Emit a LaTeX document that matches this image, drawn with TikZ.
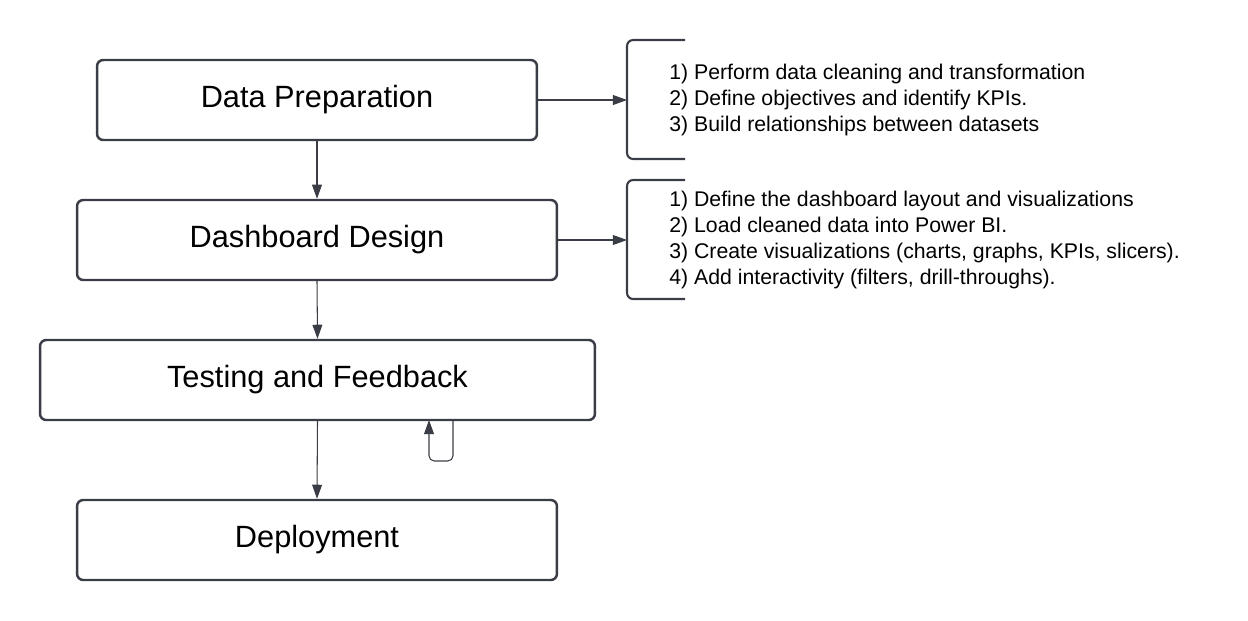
\documentclass[tikz,border=0pt]{standalone}
\usepackage{fontspec}
\setmainfont{Liberation Sans}
\usetikzlibrary{arrows.meta}
\definecolor{linec}{HTML}{3A3D45}
\begin{document}
\begin{tikzpicture}[x=0.02cm,y=-0.02cm,
  box/.style={draw=linec,line width=1.4pt,rounded corners=3.5pt,minimum height=1.6cm,inner sep=0pt,
    font=\fontsize{17.5}{21}\selectfont},
  conn/.style={draw=linec,line width=0.6pt,-{Triangle[length=8pt,width=5.6pt]}},
  brk/.style={draw=linec,line width=1.2pt,rounded corners=3.5pt},
  lst/.style={anchor=west,inner sep=0pt,align=left,font=\fontsize{12.1}{14.7}\selectfont}]
\useasboundingbox (0,0) rectangle (1248,620);
\node[box,minimum width=8.8cm] (dp) at (317,100) {Data Preparation};
\node[box,minimum width=9.6cm] (dd) at (317,240) {Dashboard Design};
\node[box,minimum width=11.1cm] (tf) at (317.5,380) {Testing and Feedback};
\node[box,minimum width=9.6cm] (de) at (317,540) {Deployment};
\draw[conn] (dp.south) -- (dd.north);
\draw[conn] (dd.south) -- (tf.north);
\draw[conn] (tf.south) -- (de.north);
% bracket 1
\coordinate (b1) at (627,100);
\draw[brk] (685,40) -- (627,40) -- (627,159) -- (685,159);
\node[lst] (l1) at (669,100) {1) Perform data cleaning and transformation\\2) Define objectives and identify KPIs.\\3) Build relationships between datasets};
\draw[conn] (dp.east |- b1) -- (b1);
% bracket 2
\coordinate (b2) at (627,240);
\draw[brk] (685,180) -- (627,180) -- (627,299) -- (685,299);
\node[lst] (l2) at (669,240) {1) Define the dashboard layout and visualizations\\2) Load cleaned data into Power BI.\\3) Create visualizations (charts, graphs, KPIs, slicers).\\4) Add interactivity (filters, drill-throughs).};
\draw[conn] (dd.east |- b2) -- (b2);
% self loop
\coordinate (s1) at (453,420);
\coordinate (s2) at (429,420);
\draw[conn,rounded corners=3pt] (s1) -- (453,461) -- (429,461) -- (s2);
\end{tikzpicture}
\end{document}
